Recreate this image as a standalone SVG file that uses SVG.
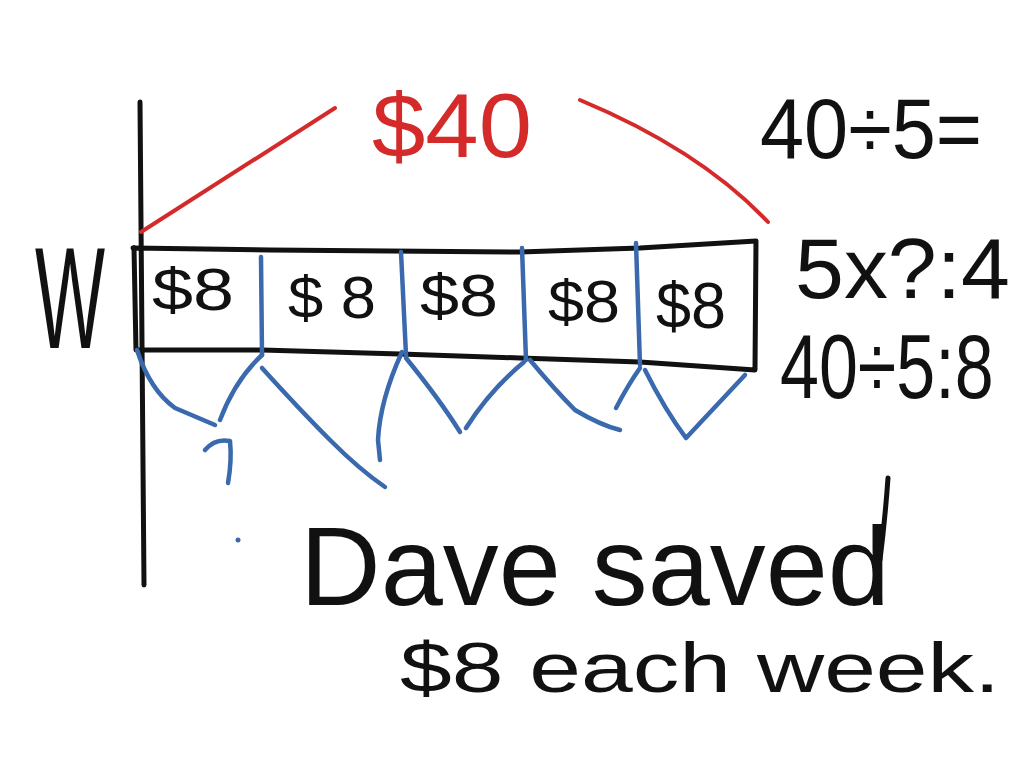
<svg xmlns="http://www.w3.org/2000/svg" width="1024" height="768" viewBox="0 0 1024 768">
<style>
.k{fill:none;stroke:#111;stroke-width:5;stroke-linecap:round;stroke-linejoin:round}
.b{fill:none;stroke:#3a6aad;stroke-width:4.5;stroke-linecap:round;stroke-linejoin:round}
.r{fill:none;stroke:#d42a2a;stroke-width:4;stroke-linecap:round}
.t{font-family:"Liberation Sans","DejaVu Sans",sans-serif;fill:#111}
.tr{font-family:"Liberation Sans","DejaVu Sans",sans-serif;fill:#d42a2a}
</style>
<rect width="1024" height="768" fill="#fff"/>
<g id="axis">
<path class="k" d="M140,102 Q141,340 144,585"/>
<text class="t" x="35" y="348" font-size="110" textLength="70" lengthAdjust="spacingAndGlyphs" transform="translate(0,-111.4) scale(1,1.32)">W</text>
</g>
<g id="total">
<path class="r" d="M141,232 L335,108"/>
<path class="r" d="M580,100 Q700,150 768,222"/>
<text class="tr" x="372" y="157" font-size="90" textLength="160" lengthAdjust="spacingAndGlyphs">$40</text>
</g>
<g id="bar">
<path class="k" d="M133,248 L270,250 L520,252 L640,248 L756,241 L755,370 L640,362 L520,358 L400,354 L262,350 L136,350 L134,248"/>
</g>
<g id="dividers">
<path class="b" d="M261,257 L262,355"/>
<path class="b" d="M401,252 L406,355"/>
<path class="b" d="M522,248 L526,360"/>
<path class="b" d="M636,243 L640,365"/>
</g>
<g id="cells">
<text class="t" x="152" y="310" font-size="60" textLength="82" lengthAdjust="spacingAndGlyphs">$8</text>
<text class="t" x="288" y="318" font-size="60" textLength="88" lengthAdjust="spacingAndGlyphs">$ 8</text>
<text class="t" x="420" y="316" font-size="60" textLength="78" lengthAdjust="spacingAndGlyphs">$8</text>
<text class="t" x="548" y="322" font-size="60" textLength="72" lengthAdjust="spacingAndGlyphs">$8</text>
<text class="t" x="656" y="328" font-size="64" textLength="70" lengthAdjust="spacingAndGlyphs">$8</text>
</g>
<g id="connectors">
<path class="b" d="M137,350 Q150,390 175,408 L215,425"/>
<path class="b" d="M220,420 Q235,380 262,355"/>
<path class="b" d="M262,368 Q300,410 330,440 Q360,470 385,487"/>
<path class="b" d="M402,352 Q380,400 378,440 L380,460"/>
<path class="b" d="M406,358 Q440,400 460,432"/>
<path class="b" d="M466,428 Q490,390 524,362"/>
<path class="b" d="M530,360 Q555,390 575,410 Q600,425 620,430"/>
<path class="b" d="M616,408 Q628,385 640,368"/>
<path class="b" d="M645,370 Q665,410 686,438 L745,375"/>
<path class="b" d="M205,450 Q215,438 230,441 Q232,460 228,483"/>
<circle cx="238" cy="540" r="2.5" fill="#3a6aad"/>
</g>
<g id="equations">
<text class="t" x="760" y="158" font-size="85" textLength="222" lengthAdjust="spacingAndGlyphs">40÷5=</text>
<text class="t" x="795" y="298" font-size="85" textLength="215" lengthAdjust="spacingAndGlyphs">5x?:4</text>
<text class="t" x="780" y="398" font-size="70" transform="translate(0,-119.4) scale(1,1.3)">40÷5:8</text>
</g>
<g id="sentence">
<path class="k" d="M888,478 Q885,520 880,560" stroke-width="4"/>
<text class="t" x="300" y="605" font-size="112" textLength="590" lengthAdjust="spacingAndGlyphs">Dave saved</text>
<text class="t" x="400" y="692" font-size="70" textLength="600" lengthAdjust="spacingAndGlyphs">$8 each week.</text>
</g>
</svg>
